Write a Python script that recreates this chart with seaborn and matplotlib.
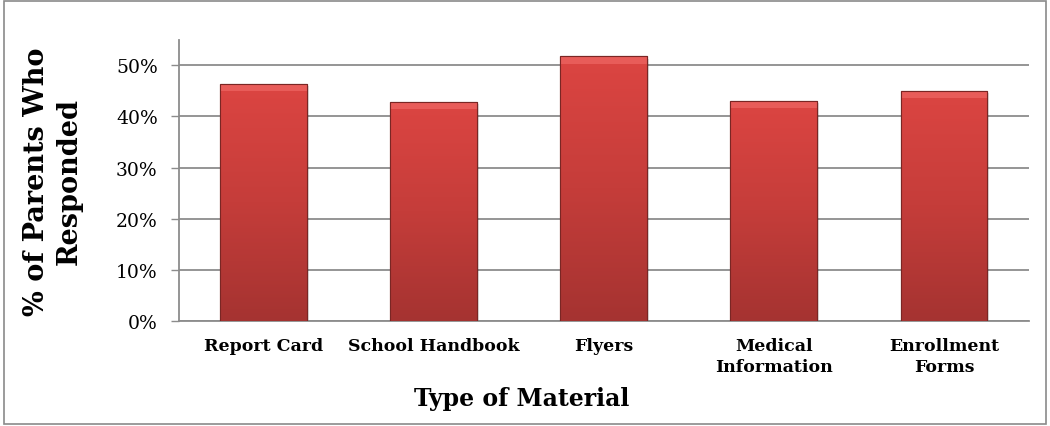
import numpy as np
import pandas as pd
import matplotlib
matplotlib.use("Agg")
import matplotlib.pyplot as plt
import seaborn as sns
from matplotlib.colors import LinearSegmentedColormap
from matplotlib.patches import Rectangle

# Data
categories = ["Report Card", "School Handbook", "Flyers", "Medical\nInformation", "Enrollment\nForms"]
responded = [0.464, 0.429, 0.517, 0.431, 0.449]
y_ticks = [0.0, 0.1, 0.2, 0.3, 0.4, 0.5]

sns.set_theme(style="white")
plt.rcParams['font.family'] = ['DejaVu Serif']
plt.rcParams['text.color'] = 'black'
plt.rcParams['axes.labelcolor'] = 'black'
plt.rcParams['xtick.color'] = 'black'
plt.rcParams['ytick.color'] = 'black'

df = pd.DataFrame({"Material": categories, "Share": responded})

fig = plt.figure(figsize=(10.5, 4.27), dpi=100)
ax = fig.add_axes([0.17, 0.245, 0.81, 0.66])

sns.barplot(data=df, x="Material", y="Share", color="#c43c39", width=0.51,
            edgecolor="#7a2624", linewidth=0.8, ax=ax, zorder=3)

# vertical red gradient on every bar, with a soft shadow and top bevel
cmap = LinearSegmentedColormap.from_list("redgrad", ["#a53331", "#c53d3a", "#dc4542"])
grad = np.linspace(0, 1, 256).reshape(-1, 1)
for p in ax.patches[:len(categories)]:
    x0, y0, w, h = p.get_x(), p.get_y(), p.get_width(), p.get_height()
    ax.add_patch(Rectangle((x0 + 0.012, y0 - 0.004), w, h, facecolor="#000000",
                           edgecolor="none", alpha=0.12, zorder=2.5))
    im = ax.imshow(grad, cmap=cmap, aspect="auto", origin="lower",
                   extent=[x0, x0 + w, y0, y0 + h], zorder=3.5)
    im.set_clip_path(p)
    ax.add_patch(Rectangle((x0, y0 + h - 0.014), w, 0.014, facecolor="#f06a66",
                           edgecolor="none", alpha=0.65, zorder=4))
    ax.add_patch(Rectangle((x0, y0), w, h, facecolor="none", edgecolor="#7a2624",
                           linewidth=0.8, zorder=4.5))

ax.set_ylim(0, 0.55)
ax.set_xlim(-0.5, len(categories) - 0.5)
ax.set_yticks(y_ticks)
ax.set_yticklabels([f"{int(round(t * 100))}%" for t in y_ticks], fontsize=13.5)
ax.yaxis.grid(True, color="#8c8c8c", linewidth=1.3, zorder=0)
ax.set_axisbelow(True)
ax.tick_params(axis="y", length=6, width=1, color="#8c8c8c", left=True, pad=9)
ax.tick_params(axis="x", length=0, pad=11)
for lbl in ax.get_xticklabels():
    lbl.set_fontweight("bold")
    lbl.set_fontsize(12.5)
    lbl.set_linespacing(1.3)

for side in ["top", "right"]:
    ax.spines[side].set_visible(False)
for side in ["left", "bottom"]:
    ax.spines[side].set_color("#8c8c8c")
    ax.spines[side].set_linewidth(1.3)

ax.set_xlabel("Type of Material", fontsize=17, fontweight="bold")
ax.xaxis.set_label_coords(0.403, -0.228)
ax.set_ylabel("% of Parents Who\nResponded", fontsize=19.5, fontweight="bold",
              linespacing=1.25)
ax.yaxis.set_label_coords(-0.113, 0.5)

# outer chart border
fig.patches.append(Rectangle((0.004, 0.005), 0.992, 0.99, transform=fig.transFigure,
                             fill=False, edgecolor="#8a8a8a", linewidth=1.2))

fig.savefig("out.png", dpi=100)
